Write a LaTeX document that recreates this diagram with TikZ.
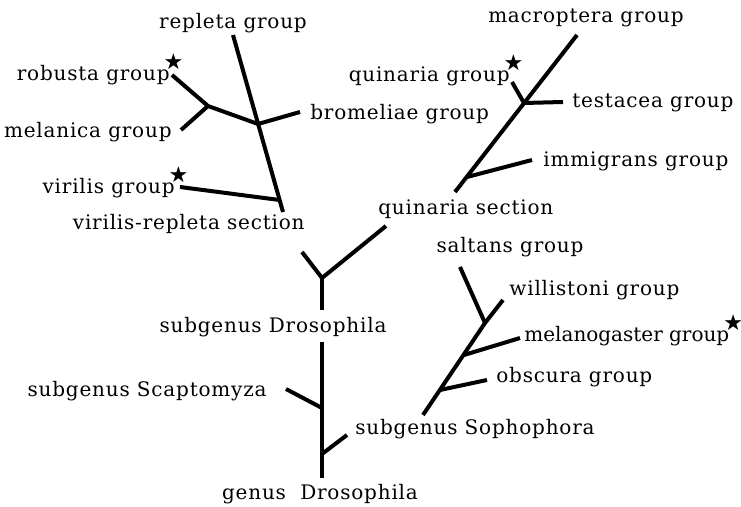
\documentclass[tikz,border=0pt]{standalone}
\usepackage{fontspec}
\setmainfont{DejaVu Serif}[LetterSpace=4]
\newfontfamily\tightfont{DejaVu Serif}
\newfontfamily\symfont{DejaVu Sans}
\usetikzlibrary{positioning}
\newcommand{\grpstar}{\rlap{\hspace{-3pt}\raisebox{5.5pt}{\symfont\fontsize{11}{11}\selectfont ★}}}

\begin{document}
\begin{tikzpicture}[x=0.5pt,y=-0.5pt,
  branch/.style={line width=2pt,line join=round},
  taxon/.style={inner sep=0pt,font=\fontsize{10}{12}\selectfont}]
\useasboundingbox (0,0) rectangle (741,507);
% forks and loose ends of the tree
\foreach \n/\p in {rp/{233,35},rb/{283,212},jb/{258,124},jv/{279.5,200},be/{300,112},jr/{208,106},re/{172,75},me/{181,130},ve/{180,187},
  vl/{302,252},jd/{322,278},vq/{386,226},ds/{322,310},gt/{322,342},gb/{322,478},js/{322,408},se/{286,389},jp/{322,454},pe/{347,435},
  qb/{455,192},qt/{577,35},jt/{524,103},qe/{512,82},te/{563,102},ji/{467,177},ie/{532,160},
  sb/{423,415},jw/{485,323},sa/{460,267},we/{503,300},jm/{464,355},mge/{520,338},jo/{440,390},oe/{487,380}}
  \coordinate (\n) at (\p);
% labels
\node[taxon,anchor=base] (repleta) at (233,29) {repleta group};
\node[taxon,anchor=base east] (robusta) at (170,81) {robusta group\grpstar};
\node[taxon,anchor=base east] (melanica) at (172,138) {melanica group};
\node[taxon,anchor=base west] (bromeliae) at (310,120) {bromeliae group};
\node[taxon,anchor=base east] (virilis) at (175,194) {virilis group\grpstar};
\node[taxon,anchor=base east] (virrep) at (305,230) {virilis-repleta section};
\node[taxon,anchor=base] (macroptera) at (586,23) {macroptera group};
\node[taxon,anchor=base east] (quinaria) at (510,82) {quinaria group\grpstar};
\node[taxon,anchor=base west] (testacea) at (572,108) {testacea group};
\node[taxon,anchor=base west] (immigrans) at (543,167) {immigrans group};
\node[taxon,anchor=base west] (quinsec) at (378,215) {quinaria section};
\node[taxon,anchor=base] (saltans) at (510,253) {saltans group};
\node[taxon,anchor=base west] (willistoni) at (509,296) {willistoni group};
\node[taxon,anchor=base west,font=\tightfont\fontsize{10}{12}\selectfont] (melano) at (524,342) {melanogaster group\grpstar};
\node[taxon,anchor=base west] (obscura) at (496,383) {obscura group};
\node[taxon,anchor=base west] (sophophora) at (355,435) {subgenus Sophophora};
\node[taxon,anchor=base] (subdros) at (273,333) {subgenus Drosophila};
\node[taxon,anchor=base east] (scapto) at (267,397) {subgenus Scaptomyza};
\node[taxon,anchor=base] (genus) at (320,500) {genus\ \ Drosophila};
% branches
\draw[branch] (rp) -- (rb);
\draw[branch] (re) -- (jr) -- (jb) -- (be);
\draw[branch] (me) -- (jr);
\draw[branch] (ve) -- (jv);
\draw[branch] (vl) -- (jd) -- (vq);
\draw[branch] (jd) -- (ds);
\draw[branch] (gt) -- (gb);
\draw[branch] (se) -- (js);
\draw[branch] (jp) -- (pe);
\draw[branch] (qb) -- (qt);
\draw[branch] (qe) -- (jt) -- (te);
\draw[branch] (ji) -- (ie);
\draw[branch] (sb) -- (jw) -- (we);
\draw[branch] (sa) -- (jw);
\draw[branch] (jm) -- (mge);
\draw[branch] (jo) -- (oe);
\end{tikzpicture}
\end{document}
